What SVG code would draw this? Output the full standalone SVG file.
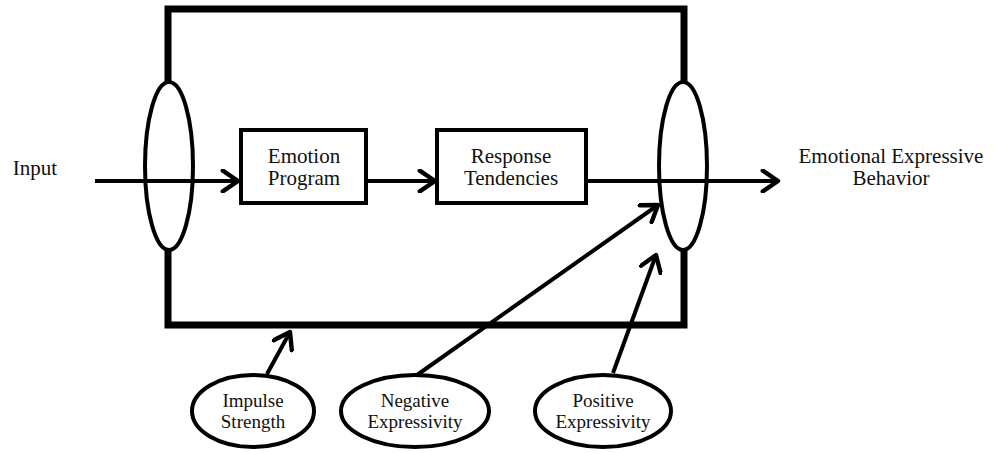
<svg xmlns="http://www.w3.org/2000/svg" width="993" height="453" viewBox="0 0 993 453">
<style>
text{font-family:"Liberation Serif","Times New Roman",serif;font-size:21px;fill:#111;text-anchor:middle}
text.sm{font-size:19px}
.frame{fill:none;stroke:#000;stroke-width:7;stroke-linejoin:miter}
.ell{fill:none;stroke:#000;stroke-width:4}
.box{fill:#fff;stroke:#000;stroke-width:4}
.arr{fill:none;stroke:#000;stroke-width:4;marker-end:url(#ah)}
</style>
<defs>
<marker id="ah" markerWidth="6" markerHeight="6" refX="4.4" refY="3" orient="auto" markerUnits="strokeWidth" viewBox="0 0 6 6">
<path d="M0.6,0.4 L4.4,3 L0.6,5.6" fill="none" stroke="#000" stroke-width="1.1" stroke-linecap="round" stroke-linejoin="round"/>
</marker>
</defs>
<g id="connectors">
<path class="frame" d="M168,84 V9 H684 V84 M168,248 V325 H684 V248"/>
<line class="arr" x1="95" y1="181" x2="238" y2="181"/>
<line class="arr" x1="366" y1="181" x2="435" y2="181"/>
<line class="arr" x1="586" y1="181" x2="778" y2="181"/>
<line class="arr" x1="267" y1="374" x2="290" y2="332"/>
<line class="arr" x1="417" y1="375" x2="658" y2="205"/>
<line class="arr" x1="613" y1="373" x2="656" y2="255"/>
</g>
<g id="gate-left"><ellipse class="ell" cx="169" cy="166" rx="24" ry="84"/></g>
<g id="gate-right"><ellipse class="ell" cx="683" cy="166" rx="24" ry="84"/></g>
<g id="emotion-program">
<rect class="box" x="241" y="130" width="125" height="73"/>
<text x="304" y="163">Emotion</text><text x="304" y="185">Program</text>
</g>
<g id="response-tendencies">
<rect class="box" x="437" y="130" width="149" height="73"/>
<text x="511" y="163">Response</text><text x="511" y="185">Tendencies</text>
</g>
<g id="input"><text x="35" y="175">Input</text></g>
<g id="output"><text x="891" y="163">Emotional Expressive</text><text x="891" y="185">Behavior</text></g>
<g id="impulse-strength">
<ellipse class="ell" cx="253" cy="411" rx="61" ry="36"/>
<text class="sm" x="253" y="407">Impulse</text><text class="sm" x="253" y="428">Strength</text>
</g>
<g id="negative-expressivity">
<ellipse class="ell" cx="415" cy="411" rx="74" ry="36"/>
<text class="sm" x="415" y="407">Negative</text><text class="sm" x="415" y="428">Expressivity</text>
</g>
<g id="positive-expressivity">
<ellipse class="ell" cx="603" cy="411" rx="68" ry="36"/>
<text class="sm" x="603" y="407">Positive</text><text class="sm" x="603" y="428">Expressivity</text>
</g>
</svg>
